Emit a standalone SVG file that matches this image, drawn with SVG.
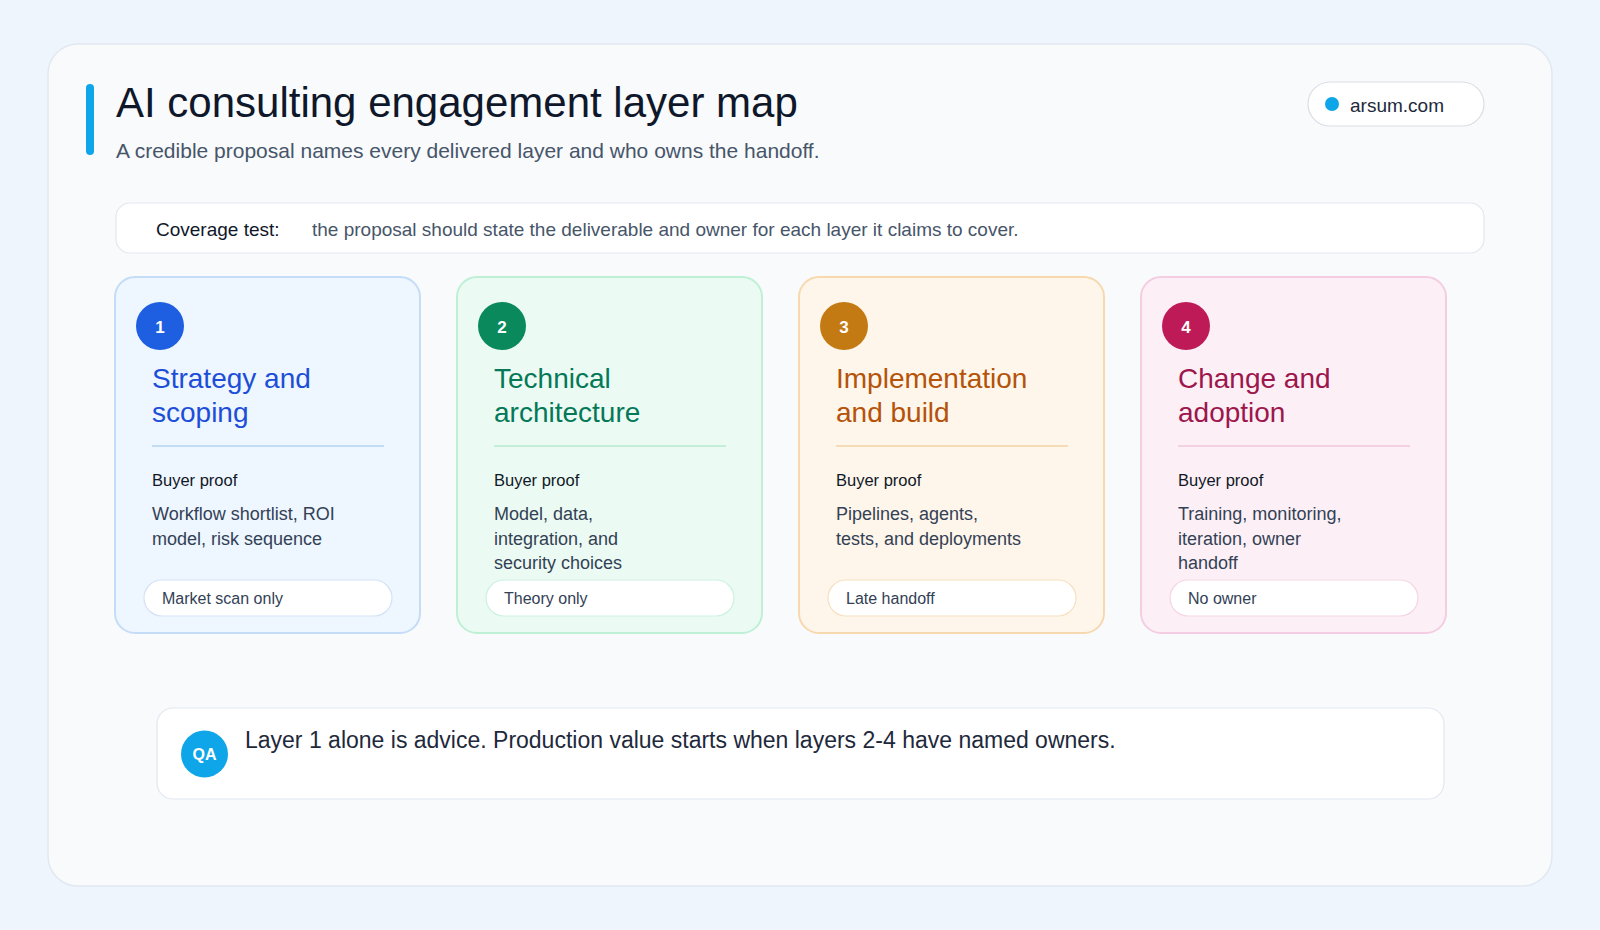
<svg xmlns="http://www.w3.org/2000/svg" width="1600" height="930" viewBox="0 0 1600 930">
  <style>
    text { font-family: "Liberation Sans", Arial, sans-serif; }
    .title { font-size: 42px; fill: #0f172a; }
    .subtitle { font-size: 21px; fill: #475569; }
    .cov-label { font-size: 19px; fill: #0f172a; }
    .cov-text { font-size: 19px; fill: #475569; }
    .num { font-size: 17px; font-weight: bold; fill: #ffffff; text-anchor: middle; }
    .ctitle { font-size: 28px; }
    .buyer { font-size: 16.5px; fill: #111827; }
    .body { font-size: 18px; fill: #334155; }
    .pilltext { font-size: 16px; fill: #334155; }
    .pill { fill: #ffffff; stroke-width: 1.2; }
    .card { stroke-width: 2; }
  </style>
  <rect x="0" y="0" width="1600" height="930" fill="#eef5fc"/>
  <g id="panel">
    <rect x="48" y="44" width="1504" height="842" rx="30" fill="#f8fafc" stroke="#e2e8f0" stroke-width="1.5"/>
  </g>
  <g id="header">
    <rect x="86" y="84" width="8" height="71" rx="4" fill="#0ea5e9"/>
    <text class="title" x="116" y="117">AI consulting engagement layer map</text>
    <text class="subtitle" x="116" y="158">A credible proposal names every delivered layer and who owns the handoff.</text>
  </g>
  <g id="site-pill">
    <rect x="1308" y="82" width="176" height="44" rx="22" fill="#ffffff" stroke="#d9dee6" stroke-width="1.2"/>
    <circle cx="1332" cy="104" r="7" fill="#0ea5e9"/>
    <text x="1350" y="111.5" style="font-size:19px;fill:#1e293b">arsum.com</text>
  </g>
  <g id="coverage">
    <rect x="116" y="203" width="1368" height="50" rx="14" fill="#ffffff" stroke="#e2e8f0" stroke-width="1.2"/>
    <text class="cov-label" x="156" y="236">Coverage test:</text>
    <text class="cov-text" x="312" y="236">the proposal should state the deliverable and owner for each layer it claims to cover.</text>
  </g>

  <g id="card-1">
    <rect class="card" x="115" y="277" width="305" height="356" rx="20" fill="#eef6ff" stroke="#c4dcf7"/>
    <circle cx="160" cy="326" r="24" fill="#1d5fe0"/>
    <text class="num" x="160" y="333">1</text>
    <text class="ctitle" x="152" y="387.5" fill="#1d4ed8">Strategy and</text>
    <text class="ctitle" x="152" y="421.5" fill="#1d4ed8">scoping</text>
    <line x1="152" y1="446" x2="384" y2="446" stroke="#c4dcf3" stroke-width="2"/>
    <text class="buyer" x="152" y="486">Buyer proof</text>
    <text class="body" x="152" y="520">Workflow shortlist, ROI</text>
    <text class="body" x="152" y="544.5">model, risk sequence</text>
    <rect class="pill" x="144" y="580" width="248" height="36" rx="18" stroke="#d3e3f5"/>
    <text class="pilltext" x="162" y="603.5">Market scan only</text>
  </g>

  <g id="card-2">
    <rect class="card" x="457" y="277" width="305" height="356" rx="20" fill="#ebfbf3" stroke="#bff0d6"/>
    <circle cx="502" cy="326" r="24" fill="#0a8a5c"/>
    <text class="num" x="502" y="333">2</text>
    <text class="ctitle" x="494" y="387.5" fill="#047857">Technical</text>
    <text class="ctitle" x="494" y="421.5" fill="#047857">architecture</text>
    <line x1="494" y1="446" x2="726" y2="446" stroke="#c3efd8" stroke-width="2"/>
    <text class="buyer" x="494" y="486">Buyer proof</text>
    <text class="body" x="494" y="520">Model, data,</text>
    <text class="body" x="494" y="544.5">integration, and</text>
    <text class="body" x="494" y="569">security choices</text>
    <rect class="pill" x="486" y="580" width="248" height="36" rx="18" stroke="#cdf1df"/>
    <text class="pilltext" x="504" y="603.5">Theory only</text>
  </g>

  <g id="card-3">
    <rect class="card" x="799" y="277" width="305" height="356" rx="20" fill="#fff6eb" stroke="#f8d8ae"/>
    <circle cx="844" cy="326" r="24" fill="#c47a12"/>
    <text class="num" x="844" y="333">3</text>
    <text class="ctitle" x="836" y="387.5" fill="#b45309">Implementation</text>
    <text class="ctitle" x="836" y="421.5" fill="#b45309">and build</text>
    <line x1="836" y1="446" x2="1068" y2="446" stroke="#f5dbb6" stroke-width="2"/>
    <text class="buyer" x="836" y="486">Buyer proof</text>
    <text class="body" x="836" y="520">Pipelines, agents,</text>
    <text class="body" x="836" y="544.5">tests, and deployments</text>
    <rect class="pill" x="828" y="580" width="248" height="36" rx="18" stroke="#f7e0c2"/>
    <text class="pilltext" x="846" y="603.5">Late handoff</text>
  </g>

  <g id="card-4">
    <rect class="card" x="1141" y="277" width="305" height="356" rx="20" fill="#fcf0f6" stroke="#f5cde2"/>
    <circle cx="1186" cy="326" r="24" fill="#be1a57"/>
    <text class="num" x="1186" y="333">4</text>
    <text class="ctitle" x="1178" y="387.5" fill="#9d174d">Change and</text>
    <text class="ctitle" x="1178" y="421.5" fill="#9d174d">adoption</text>
    <line x1="1178" y1="446" x2="1410" y2="446" stroke="#f3d0e2" stroke-width="2"/>
    <text class="buyer" x="1178" y="486">Buyer proof</text>
    <text class="body" x="1178" y="520">Training, monitoring,</text>
    <text class="body" x="1178" y="544.5">iteration, owner</text>
    <text class="body" x="1178" y="569">handoff</text>
    <rect class="pill" x="1170" y="580" width="248" height="36" rx="18" stroke="#f5d5e5"/>
    <text class="pilltext" x="1188" y="603.5">No owner</text>
  </g>

  <g id="qa-note">
    <rect x="157" y="708" width="1287" height="91" rx="16" fill="#ffffff" stroke="#e2e8f0" stroke-width="1.2"/>
    <circle cx="204.5" cy="754" r="23.5" fill="#0ea5e9"/>
    <text x="204.5" y="760" style="font-size:16px;font-weight:bold;fill:#ffffff;text-anchor:middle">QA</text>
    <text x="245" y="747.5" style="font-size:23px;fill:#1e293b">Layer 1 alone is advice. Production value starts when layers 2-4 have named owners.</text>
  </g>
  <g id="connectors"/>
</svg>
